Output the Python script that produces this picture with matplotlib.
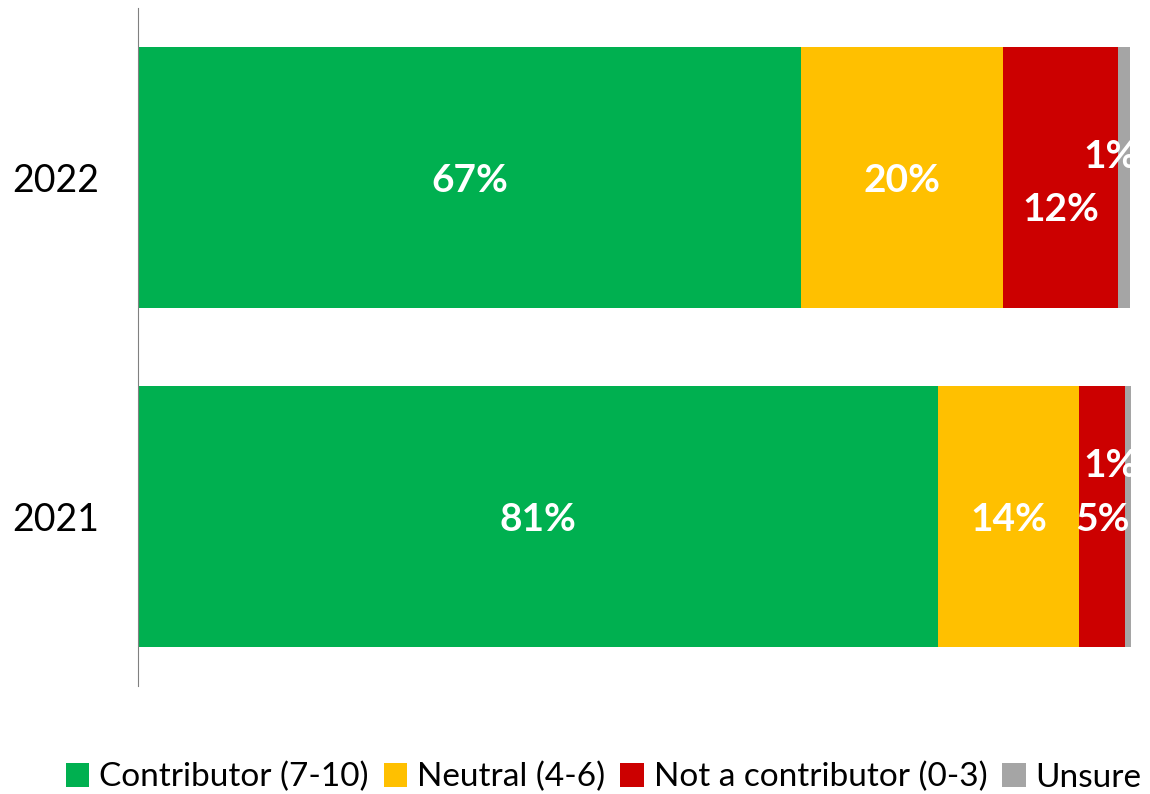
import numpy as np
import matplotlib.pyplot as plt

plt.rcParams['font.family'] = ['Lato', 'DejaVu Sans']

# Survey years (bottom to top) and share of answers per group, in %
years = ['2021', '2022']
groups = ['Contributor (7-10)', 'Neutral (4-6)', 'Not a contributor (0-3)', 'Unsure']
contributor = [80.6, 66.8]
neutral = [14.3, 20.4]
not_contrib = [4.6, 11.6]
unsure = [0.6, 1.2]

colors = ['#00B050', '#FFC000', '#CC0000', '#A5A5A5']
series = [contributor, neutral, not_contrib, unsure]

# label nudges (pixels) where Excel moved small labels out of the way
nudge = {(2, 1): (0, -29), (3, 1): (-14, 24), (3, 0): (-17, 54)}

fig = plt.figure(figsize=(11.5, 7.94), dpi=100, facecolor='w')
ax = fig.add_axes([0.12, 0.136, 0.8635, 0.854])

y = np.arange(len(years))
left = np.zeros(len(years))
for i, (vals, c, name) in enumerate(zip(series, colors, groups)):
    vals = np.array(vals)
    ax.barh(y, vals, left=left, height=0.77, color=c, label=name)
    for j, v in enumerate(vals):
        dx, dy = nudge.get((i, j), (0, 0))
        ax.annotate('%.0f%%' % v, (left[j] + v / 2, y[j] - 0.01), xytext=(dx, dy),
                    textcoords='offset pixels', ha='center', va='center',
                    color='white', fontsize=28, fontweight='bold',
                    annotation_clip=False, clip_on=True)
    left += vals

ax.set_xlim(0, left.max())
ax.set_ylim(-0.5, 1.5)
ax.set_yticks(y)
ax.set_yticklabels(years, fontsize=27)
ax.tick_params(axis='y', length=0, pad=28)
ax.set_xticks([])
for spine in ('top', 'right', 'bottom'):
    ax.spines[spine].set_visible(False)
ax.spines['left'].set_color('#808080')

legend = fig.legend(loc='lower center', bbox_to_anchor=(0.525, -0.036), ncol=4,
                    frameon=False, fontsize=24, handlelength=0.7, handleheight=0.7,
                    handletextpad=0.3, columnspacing=0.45)

fig.savefig('out.png', dpi=100)
